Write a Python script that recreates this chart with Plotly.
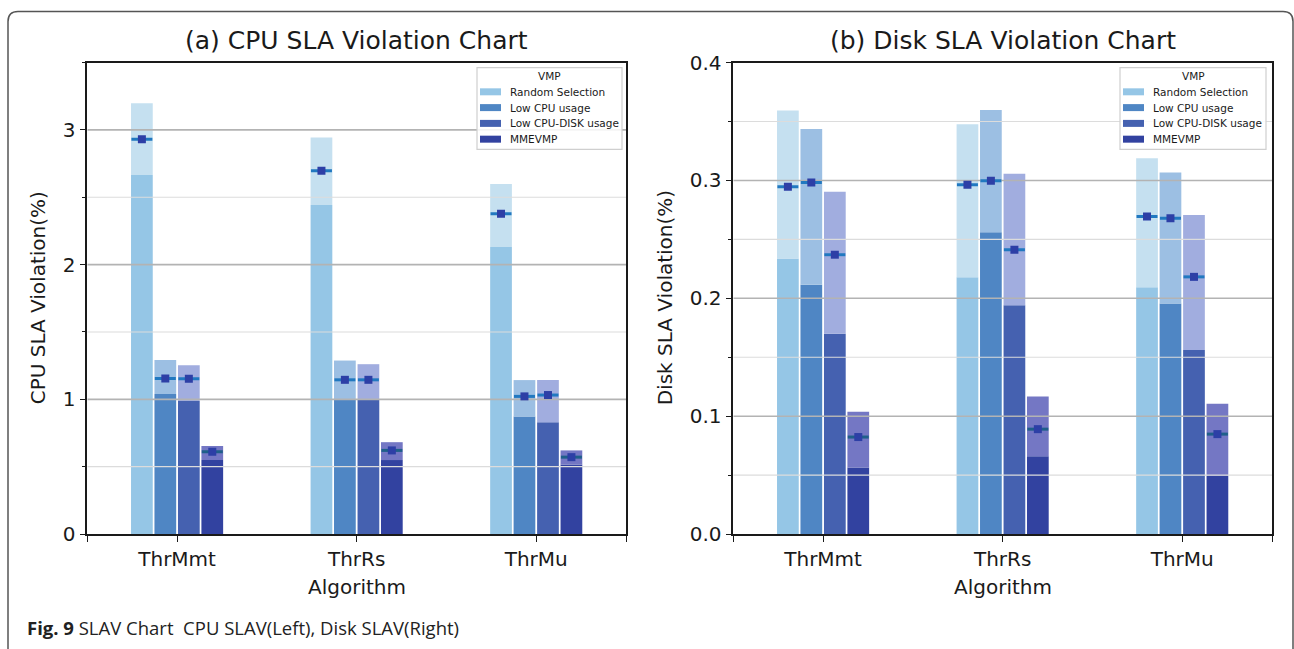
import plotly.graph_objects as go

W, H = 1294, 649

# ---------------- data ----------------
categories = ["ThrMmt", "ThrRs", "ThrMu"]
series_names = ["Random Selection", "Low CPU usage", "Low CPU-DISK usage", "MMEVMP"]

# CPU SLA violation (%): lower (solid) level, upper level, mean marker
cpu_low_random = [2.665, 2.443, 2.130]
cpu_low_lowcpu = [1.040, 0.998, 0.872]
cpu_low_cpudisk = [0.988, 0.998, 0.830]
cpu_low_mmevmp = [0.549, 0.549, 0.517]

cpu_high_random = [3.197, 2.943, 2.599]
cpu_high_lowcpu = [1.293, 1.288, 1.143]
cpu_high_cpudisk = [1.254, 1.261, 1.143]
cpu_high_mmevmp = [0.653, 0.682, 0.621]

cpu_mean_random = [2.930, 2.697, 2.377]
cpu_mean_lowcpu = [1.155, 1.145, 1.022]
cpu_mean_cpudisk = [1.152, 1.145, 1.032]
cpu_mean_mmevmp = [0.611, 0.621, 0.571]

# Disk SLA violation (%)
disk_low_random = [0.2337, 0.2179, 0.2094]
disk_low_lowcpu = [0.2114, 0.2560, 0.1956]
disk_low_cpudisk = [0.1700, 0.1942, 0.1562]
disk_low_mmevmp = [0.0564, 0.0660, 0.0493]

disk_high_random = [0.3594, 0.3476, 0.3188]
disk_high_lowcpu = [0.3436, 0.3597, 0.3067]
disk_high_cpudisk = [0.2903, 0.3056, 0.2706]
disk_high_mmevmp = [0.1037, 0.1167, 0.1105]

disk_mean_random = [0.2946, 0.2963, 0.2695]
disk_mean_lowcpu = [0.2982, 0.2997, 0.2680]
disk_mean_cpudisk = [0.2370, 0.2413, 0.2182]
disk_mean_mmevmp = [0.0823, 0.0890, 0.0848]

cpu_major_ticks = [0, 1, 2, 3]
cpu_minor_ticks = [0.5, 1.5, 2.5]
disk_major_ticks = [0.0, 0.1, 0.2, 0.3, 0.4]
disk_minor_ticks = [0.05, 0.15, 0.25, 0.35]

# ---------------- style ----------------
solid_colors = ["#95c6e6", "#4f86c4", "#4561b0", "#3242a0"]
light_colors = ["#c5e0f0", "#9cbfe3", "#a1addf", "#7477c4"]
mean_line_colors = ["#2178c0", "#2178c0", "#2178c0", "#1f5f8a"]
mean_square_color = "#2d3fa6"
bar_offsets = [-0.196, -0.0655, 0.0655, 0.196]
bar_width = 0.121
FONT = "DejaVu Sans"

cpu_low = [cpu_low_random, cpu_low_lowcpu, cpu_low_cpudisk, cpu_low_mmevmp]
cpu_high = [cpu_high_random, cpu_high_lowcpu, cpu_high_cpudisk, cpu_high_mmevmp]
cpu_mean = [cpu_mean_random, cpu_mean_lowcpu, cpu_mean_cpudisk, cpu_mean_mmevmp]
disk_low = [disk_low_random, disk_low_lowcpu, disk_low_cpudisk, disk_low_mmevmp]
disk_high = [disk_high_random, disk_high_lowcpu, disk_high_cpudisk, disk_high_mmevmp]
disk_mean = [disk_mean_random, disk_mean_lowcpu, disk_mean_cpudisk, disk_mean_mmevmp]


def px_x(x):
    return x / W


def px_y(y):
    # vertical layout correction measured against the rendered page
    y = (y - 11.4) / 0.964
    return 1 - y / H


fig = go.Figure()


def add_panel(low, high, mean, xa, ya, grid_major, grid_minor, yrange):
    for i, name in enumerate(series_names):
        xs = [g + bar_offsets[i] for g in range(len(categories))]
        fig.add_trace(go.Bar(x=xs, y=low[i], width=bar_width, marker_color=solid_colors[i],
                             marker_line_width=0, name=name, showlegend=False,
                             xaxis=xa, yaxis=ya))
        fig.add_trace(go.Bar(x=xs, y=[h - l for h, l in zip(high[i], low[i])], base=low[i],
                             width=bar_width, marker_color=light_colors[i], marker_line_width=0,
                             name=name, showlegend=False, xaxis=xa, yaxis=ya))
    # grid lines drawn above bars, below markers (matplotlib style)
    for v in grid_minor:
        fig.add_trace(go.Scatter(x=[-0.5, 2.5], y=[v, v], mode="lines",
                                 line=dict(color="#dcdcdc", width=1.2), hoverinfo="skip",
                                 showlegend=False, xaxis=xa, yaxis=ya))
    for v in grid_major:
        if v <= yrange[0] or v >= yrange[1]:
            continue
        fig.add_trace(go.Scatter(x=[-0.5, 2.5], y=[v, v], mode="lines",
                                 line=dict(color="#b3b3b3", width=1.6), hoverinfo="skip",
                                 showlegend=False, xaxis=xa, yaxis=ya))
    for i, name in enumerate(series_names):
        xs = [g + bar_offsets[i] for g in range(len(categories))]
        fig.add_trace(go.Scatter(x=xs, y=mean[i], mode="markers",
                                 marker=dict(symbol="line-ew", size=15,
                                             line=dict(color=mean_line_colors[i], width=3)),
                                 showlegend=False, hoverinfo="skip", xaxis=xa, yaxis=ya))
        fig.add_trace(go.Scatter(x=xs, y=mean[i], mode="markers", name=name,
                                 marker=dict(symbol="square", size=8, color=mean_square_color,
                                             line=dict(width=0)),
                                 showlegend=False, xaxis=xa, yaxis=ya))


add_panel(cpu_low, cpu_high, cpu_mean, "x", "y", cpu_major_ticks, cpu_minor_ticks, [0, 3.5])
add_panel(disk_low, disk_high, disk_mean, "x2", "y2", disk_major_ticks, disk_minor_ticks, [0, 0.4])

ax_common = dict(showline=True, linecolor="#1a1a1a", linewidth=1.5, mirror=True,
                 ticks="outside", ticklen=6, tickwidth=1.3, tickcolor="#1a1a1a",
                 showgrid=False, zeroline=False,
                 tickfont=dict(family=FONT, size=20, color="#1a1a1a"))

left_dom = [px_x(87.3), px_x(626)]
right_dom = [px_x(733.3), px_x(1272)]
y_dom = [px_y(534), px_y(62)]

fig.update_layout(
    width=W, height=H,
    margin=dict(l=0, r=0, t=0, b=0),
    paper_bgcolor="white", plot_bgcolor="white",
    barmode="overlay",
    xaxis=dict(domain=left_dom, range=[-0.5, 2.5], tickmode="array",
               tickvals=list(range(len(categories))), ticktext=categories,
               minor=dict(tickvals=[-0.5, 2.5], ticks="outside", ticklen=6, tickcolor="#1a1a1a"),
               anchor="y", **ax_common),
    yaxis=dict(domain=y_dom, range=[0, 3.5], tickmode="array", tickvals=cpu_major_ticks,
               minor=dict(tickvals=cpu_minor_ticks + [3.5], ticks="outside", ticklen=4,
                          tickcolor="#1a1a1a", showgrid=False),
               anchor="x", **ax_common),
    xaxis2=dict(domain=right_dom, range=[-0.5, 2.5], tickmode="array",
                tickvals=list(range(len(categories))), ticktext=categories,
                minor=dict(tickvals=[-0.5, 2.5], ticks="outside", ticklen=6, tickcolor="#1a1a1a"),
                anchor="y2", **ax_common),
    yaxis2=dict(domain=y_dom, range=[0, 0.4], tickmode="array", tickvals=disk_major_ticks,
                tickformat=".1f",
                minor=dict(tickvals=disk_minor_ticks, ticks="outside", ticklen=4,
                           tickcolor="#1a1a1a", showgrid=False),
                anchor="x2", **ax_common),
)

annotations = []
shapes = []


def text(x, y, s, size, xanchor="center", angle=0, family=FONT, color="#1a1a1a"):
    annotations.append(dict(x=px_x(x), y=px_y(y), xref="paper", yref="paper", text=s,
                            showarrow=False, xanchor=xanchor, yanchor="middle",
                            textangle=angle, font=dict(family=family, size=size, color=color)))


lc = (87.3 + 626) / 2
rc = (733.3 + 1272) / 2
text(lc, 40, "(a) CPU SLA Violation Chart", 25)
text(rc, 40, "(b) Disk SLA Violation Chart", 25)
text(lc, 587, "Algorithm", 20)
text(rc, 587, "Algorithm", 20)
text(38, 298, "CPU SLA Violation(%)", 20, angle=-90)
text(665, 298, "Disk SLA Violation(%)", 20, angle=-90)
text(25, 628, "<b>Fig. 9</b> SLAV Chart\u00a0 CPU SLAV(Left), Disk SLAV(Right)", 18.5,
     xanchor="left", family="Open Sans", color="#222222")


def legend(x0, x1, y0, y1):
    shapes.append(dict(type="rect", xref="paper", yref="paper",
                       x0=px_x(x0), x1=px_x(x1), y0=px_y(y0), y1=px_y(y1),
                       line=dict(color="#cfcfcf", width=1.2), fillcolor="rgba(255,255,255,0.85)",
                       layer="above"))
    text((x0 + x1) / 2, 75.5, "VMP", 10.5)
    for i, name in enumerate(series_names):
        yc = 91.3 + 15.8 * i
        shapes.append(dict(type="rect", xref="paper", yref="paper",
                           x0=px_x(x0 + 3), x1=px_x(x0 + 24), y0=px_y(yc + 3.5), y1=px_y(yc - 3.5),
                           line=dict(width=0), fillcolor=solid_colors[i], layer="above"))
        text(x0 + 31, yc, name, 10.5, xanchor="left")


legend(477, 622, 67, 149)
legend(1120, 1266, 67, 149)

# outer rounded frame of the figure panel
r = 10
fx0, fy0, fx1, fy1 = 8, 11, 1293, 700
path = (f"M {px_x(fx0)},{px_y(fy0 + r)} "
        f"Q {px_x(fx0)},{px_y(fy0)} {px_x(fx0 + r)},{px_y(fy0)} "
        f"L {px_x(fx1 - r)},{px_y(fy0)} "
        f"Q {px_x(fx1)},{px_y(fy0)} {px_x(fx1)},{px_y(fy0 + r)} "
        f"L {px_x(fx1)},{px_y(fy1)} L {px_x(fx0)},{px_y(fy1)} Z")
shapes.append(dict(type="path", xref="paper", yref="paper", path=path,
                   line=dict(color="#555555", width=1.5), layer="below"))

fig.update_layout(annotations=annotations, shapes=shapes)
fig.write_html("out.html")
